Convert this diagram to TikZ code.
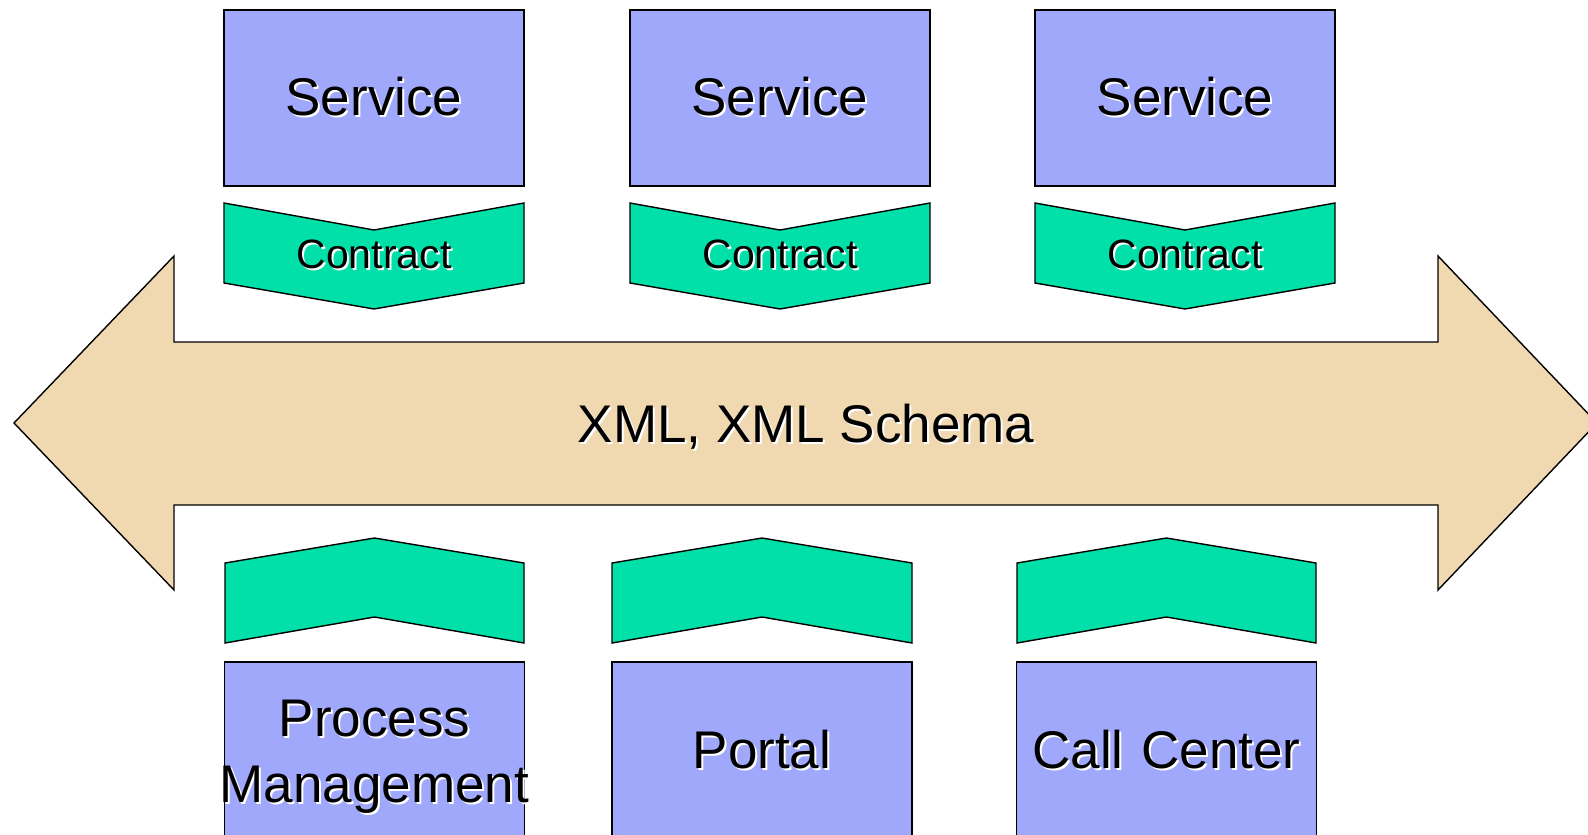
\documentclass[tikz,border=0pt]{standalone}
\usepackage{fontspec}
\setmainfont{Liberation Sans}
\usepackage{tikz}
\usetikzlibrary{positioning}
\definecolor{svcblue}{RGB}{160,168,252}
\definecolor{ctgreen}{RGB}{0,224,168}
\definecolor{bustan}{RGB}{240,216,176}
\newcommand{\shtext}[1]{\makebox[0pt][l]{\hspace{2pt}\raisebox{-2pt}{\color{white}#1}}#1}
\tikzstyle{servicebox} = [rectangle, draw=black, fill=svcblue, line width=1.4pt, minimum width=300pt, minimum height=176pt, inner sep=0pt, text centered, font=\fontsize{53}{66}\selectfont]
\tikzstyle{clientbox} = [servicebox, text width=300pt, align=center]
\tikzstyle{contract} = [draw=black, fill=ctgreen, line width=1.4pt, line join=miter]
\tikzstyle{busarrow} = [draw=black, fill=bustan, line width=1.4pt, line join=miter]
\begin{document}
\begin{tikzpicture}[x=1pt, y=-1pt]
\useasboundingbox (0,0) rectangle (1588,835);
% Bus
\draw[busarrow] (14,423) -- (174,256) -- (174,342) -- (1438,342) -- (1438,256) -- (1597,423)
  -- (1438,590) -- (1438,505) -- (174,505) -- (174,590) -- cycle;
\node[font=\fontsize{53}{64}\selectfont] (bus) at (806,428) {\shtext{XML, XML Schema}};

% Services
\node[servicebox] (svc1) at (374,98) {\raisebox{-3pt}{\shtext{Service}}};
\node[servicebox] (svc2) at (780,98) {\raisebox{-3pt}{\shtext{Service}}};
\node[servicebox] (svc3) at (1185,98) {\raisebox{-3pt}{\shtext{Service}}};

% Contracts above the bus
\draw[contract] (224,203) -- (374,230) -- (524,203) -- (524,283) -- (374,309) -- (224,283) -- cycle;
\draw[contract] (630,203) -- (780,230) -- (930,203) -- (930,283) -- (780,309) -- (630,283) -- cycle;
\draw[contract] (1035,203) -- (1185,230) -- (1335,203) -- (1335,283) -- (1185,309) -- (1035,283) -- cycle;
\node[font=\fontsize{41}{50}\selectfont] (ct1) at (374,255) {\shtext{Contract}};
\node[font=\fontsize{41}{50}\selectfont] (ct2) at (780,255) {\shtext{Contract}};
\node[font=\fontsize{41}{50}\selectfont] (ct3) at (1185,255) {\shtext{Contract}};

% Contracts below the bus
\draw[contract] (225,563) -- (374.5,538) -- (524,563) -- (524,643) -- (374.5,617) -- (225,643) -- cycle;
\draw[contract] (612,563) -- (762,538) -- (912,563) -- (912,643) -- (762,617) -- (612,643) -- cycle;
\draw[contract] (1017,563) -- (1166.5,538) -- (1316,563) -- (1316,643) -- (1166.5,617) -- (1017,643) -- cycle;

% Consumers
\node[clientbox, minimum height=191pt] (proc) at (374.5,757.5) {\shtext{Process}\\\makebox[\linewidth][c]{\shtext{Management}}};
\node[clientbox, minimum height=177pt] (portal) at (762,750.5) {\shtext{Portal}};
\node[clientbox, minimum height=177pt] (callc) at (1166.5,750.5) {\shtext{Call Center}};
\end{tikzpicture}
\end{document}
